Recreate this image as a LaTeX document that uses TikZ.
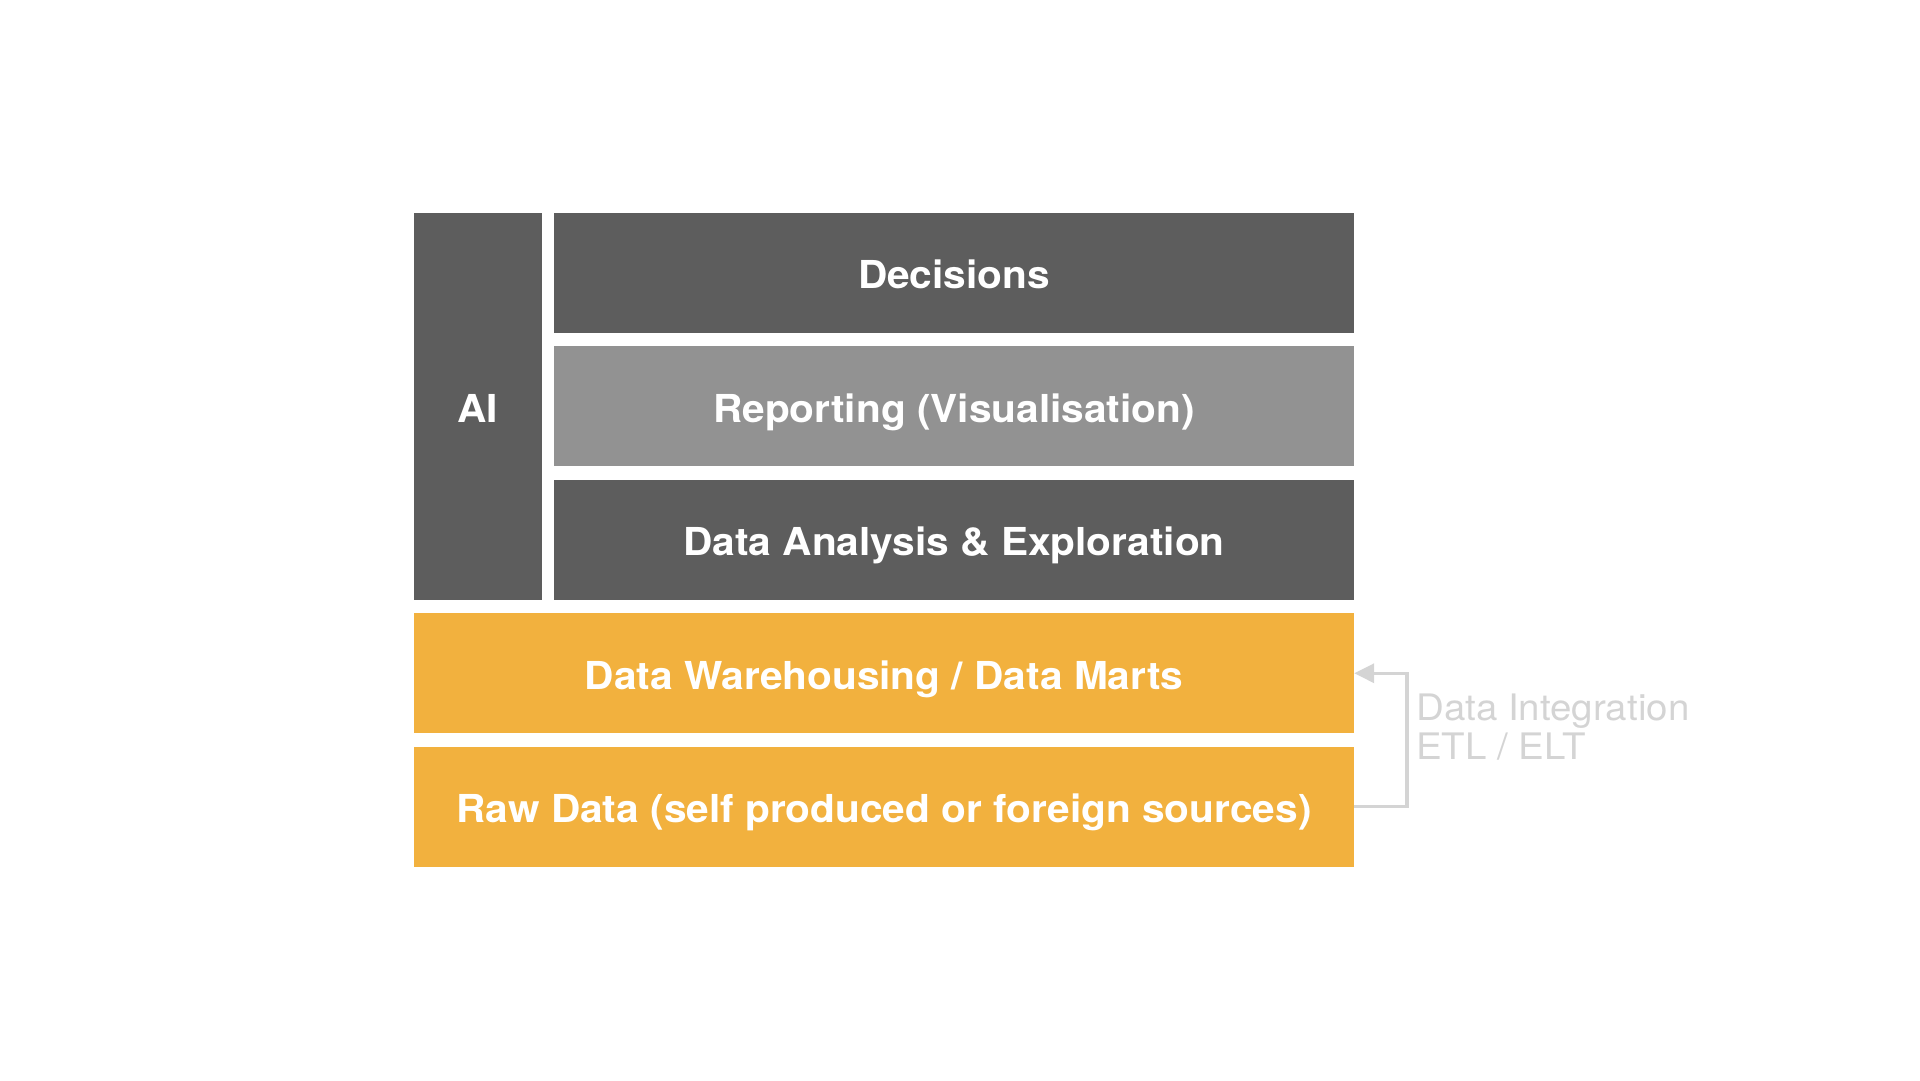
\documentclass[tikz,border=0pt]{standalone}
\usepackage{fontspec}
\setmainfont{TeX Gyre Heros}
\newfontfamily\boxfont[FakeStretch=1.055]{TeX Gyre Heros}
\usetikzlibrary{arrows.meta}
\definecolor{cdark}{RGB}{93,93,93}
\definecolor{cmid}{RGB}{146,146,146}
\definecolor{corange}{RGB}{242,177,62}
\definecolor{clight}{RGB}{212,212,212}
\tikzset{stackfig/.style={x=1pt,y=-1pt},
  layer/.style={inner sep=0pt,minimum height=120,text=white,text height=31.5pt,text depth=0pt,
    font=\boxfont\fontsize{38.5}{46}\selectfont\bfseries},
  etlnote/.style={inner sep=0pt,align=left,text=clight,
    font=\boxfont\fontsize{36.5}{39}\selectfont},
  etlline/.style={clight,line width=3.5pt,-{Triangle[length=20pt,width=19pt]}}}

\begin{document}
\begin{tikzpicture}[stackfig]
    \useasboundingbox (0,0) rectangle (1920,1080);
    \node[layer,fill=cdark,minimum width=127.5,minimum height=387] (ai) at (477.75,406.5) {AI};
    \node[layer,fill=cdark,minimum width=800] (dec) at (954,273) {Decisions};
    \node[layer,fill=cmid,minimum width=800] (rep) at (954,406.25) {Reporting (Visualisation)};
    \node[layer,fill=cdark,minimum width=800] (ana) at (954,540) {Data Analysis \& Exploration};
    \node[layer,fill=corange,minimum width=940] (wh) at (884,673.25) {Data Warehousing / Data Marts};
    \node[layer,fill=corange,minimum width=940] (raw) at (884,806.5) {Raw Data (self produced or foreign sources)};
    \draw[etlline] (raw.east) -- ++(53,0) |- (wh.east);
    \node[etlnote,anchor=base west] (etl) at (1416,759) {Data Integration\\ETL / ELT};
\end{tikzpicture}
\end{document}
